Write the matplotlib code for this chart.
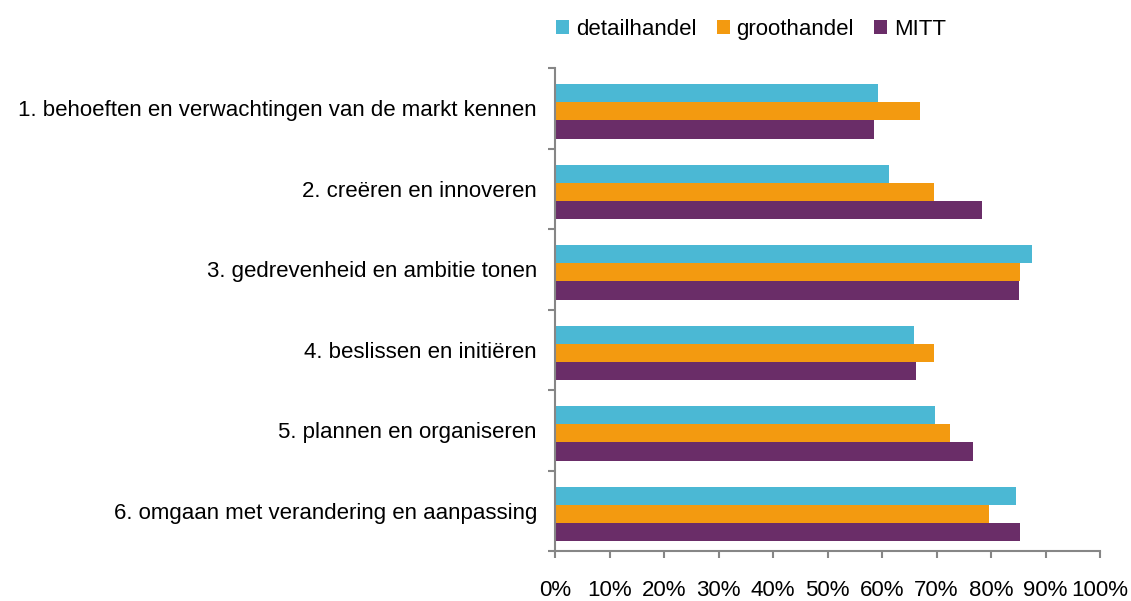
import matplotlib.pyplot as plt
import numpy as np

plt.rcParams['font.family'] = ['Liberation Sans', 'DejaVu Sans']
plt.rcParams['font.size'] = 16

# Data (percentages)
categories = ['1. behoeften en verwachtingen van de markt kennen',
              '2. creëren en innoveren',
              '3. gedrevenheid en ambitie tonen',
              '4. beslissen en initiëren',
              '5. plannen en organiseren',
              '6. omgaan met verandering en aanpassing']
detailhandel = [59.2, 61.3, 87.5, 65.9, 69.7, 84.6]
groothandel = [67.0, 69.5, 85.3, 69.5, 72.4, 79.6]
mitt = [58.5, 78.3, 85.1, 66.3, 76.7, 85.3]

series = [('detailhandel', detailhandel, '#4BB8D4'),
          ('groothandel', groothandel, '#F39A10'),
          ('MITT', mitt, '#6A2D68')]

fig = plt.figure(figsize=(11.31, 6.01), dpi=100)
ax = fig.add_axes([555 / 1131, 1 - 551 / 601, (1100 - 555) / 1131, (551 - 68) / 601])

y = np.arange(len(categories))
h = 0.224
for i, (name, vals, col) in enumerate(series):
    ax.barh(y + 0.04 + (i - 1) * h, vals, height=h, color=col, label=name)

ax.set_ylim(len(categories) - 0.5, -0.5)
ax.set_xlim(0, 100)
ax.set_xticks(np.arange(0, 101, 10))
ax.set_xticklabels([f'{v}%' for v in range(0, 101, 10)])
ax.set_yticks(y)
ax.set_yticklabels(categories)
ax.set_yticks(np.arange(-0.5, len(categories), 1), minor=True)

for s in ['top', 'right']:
    ax.spines[s].set_visible(False)
for s in ['left', 'bottom']:
    ax.spines[s].set_color('#868686')
    ax.spines[s].set_linewidth(1.5)

ax.tick_params(axis='y', which='major', length=0, pad=13)
ax.tick_params(axis='y', which='minor', length=5, color='#868686', width=1.5)
ax.tick_params(axis='x', length=5, color='#868686', width=1.5, pad=16)

ax.legend(loc='lower left', bbox_to_anchor=(556 / 1131, 1 - 40 / 601),
          bbox_transform=fig.transFigure, ncol=3, frameon=False, fontsize=16,
          handlelength=0.6, handleheight=0.6, handletextpad=0.3,
          columnspacing=0.9, borderaxespad=0, borderpad=0)

fig.savefig('out.png', dpi=100)
